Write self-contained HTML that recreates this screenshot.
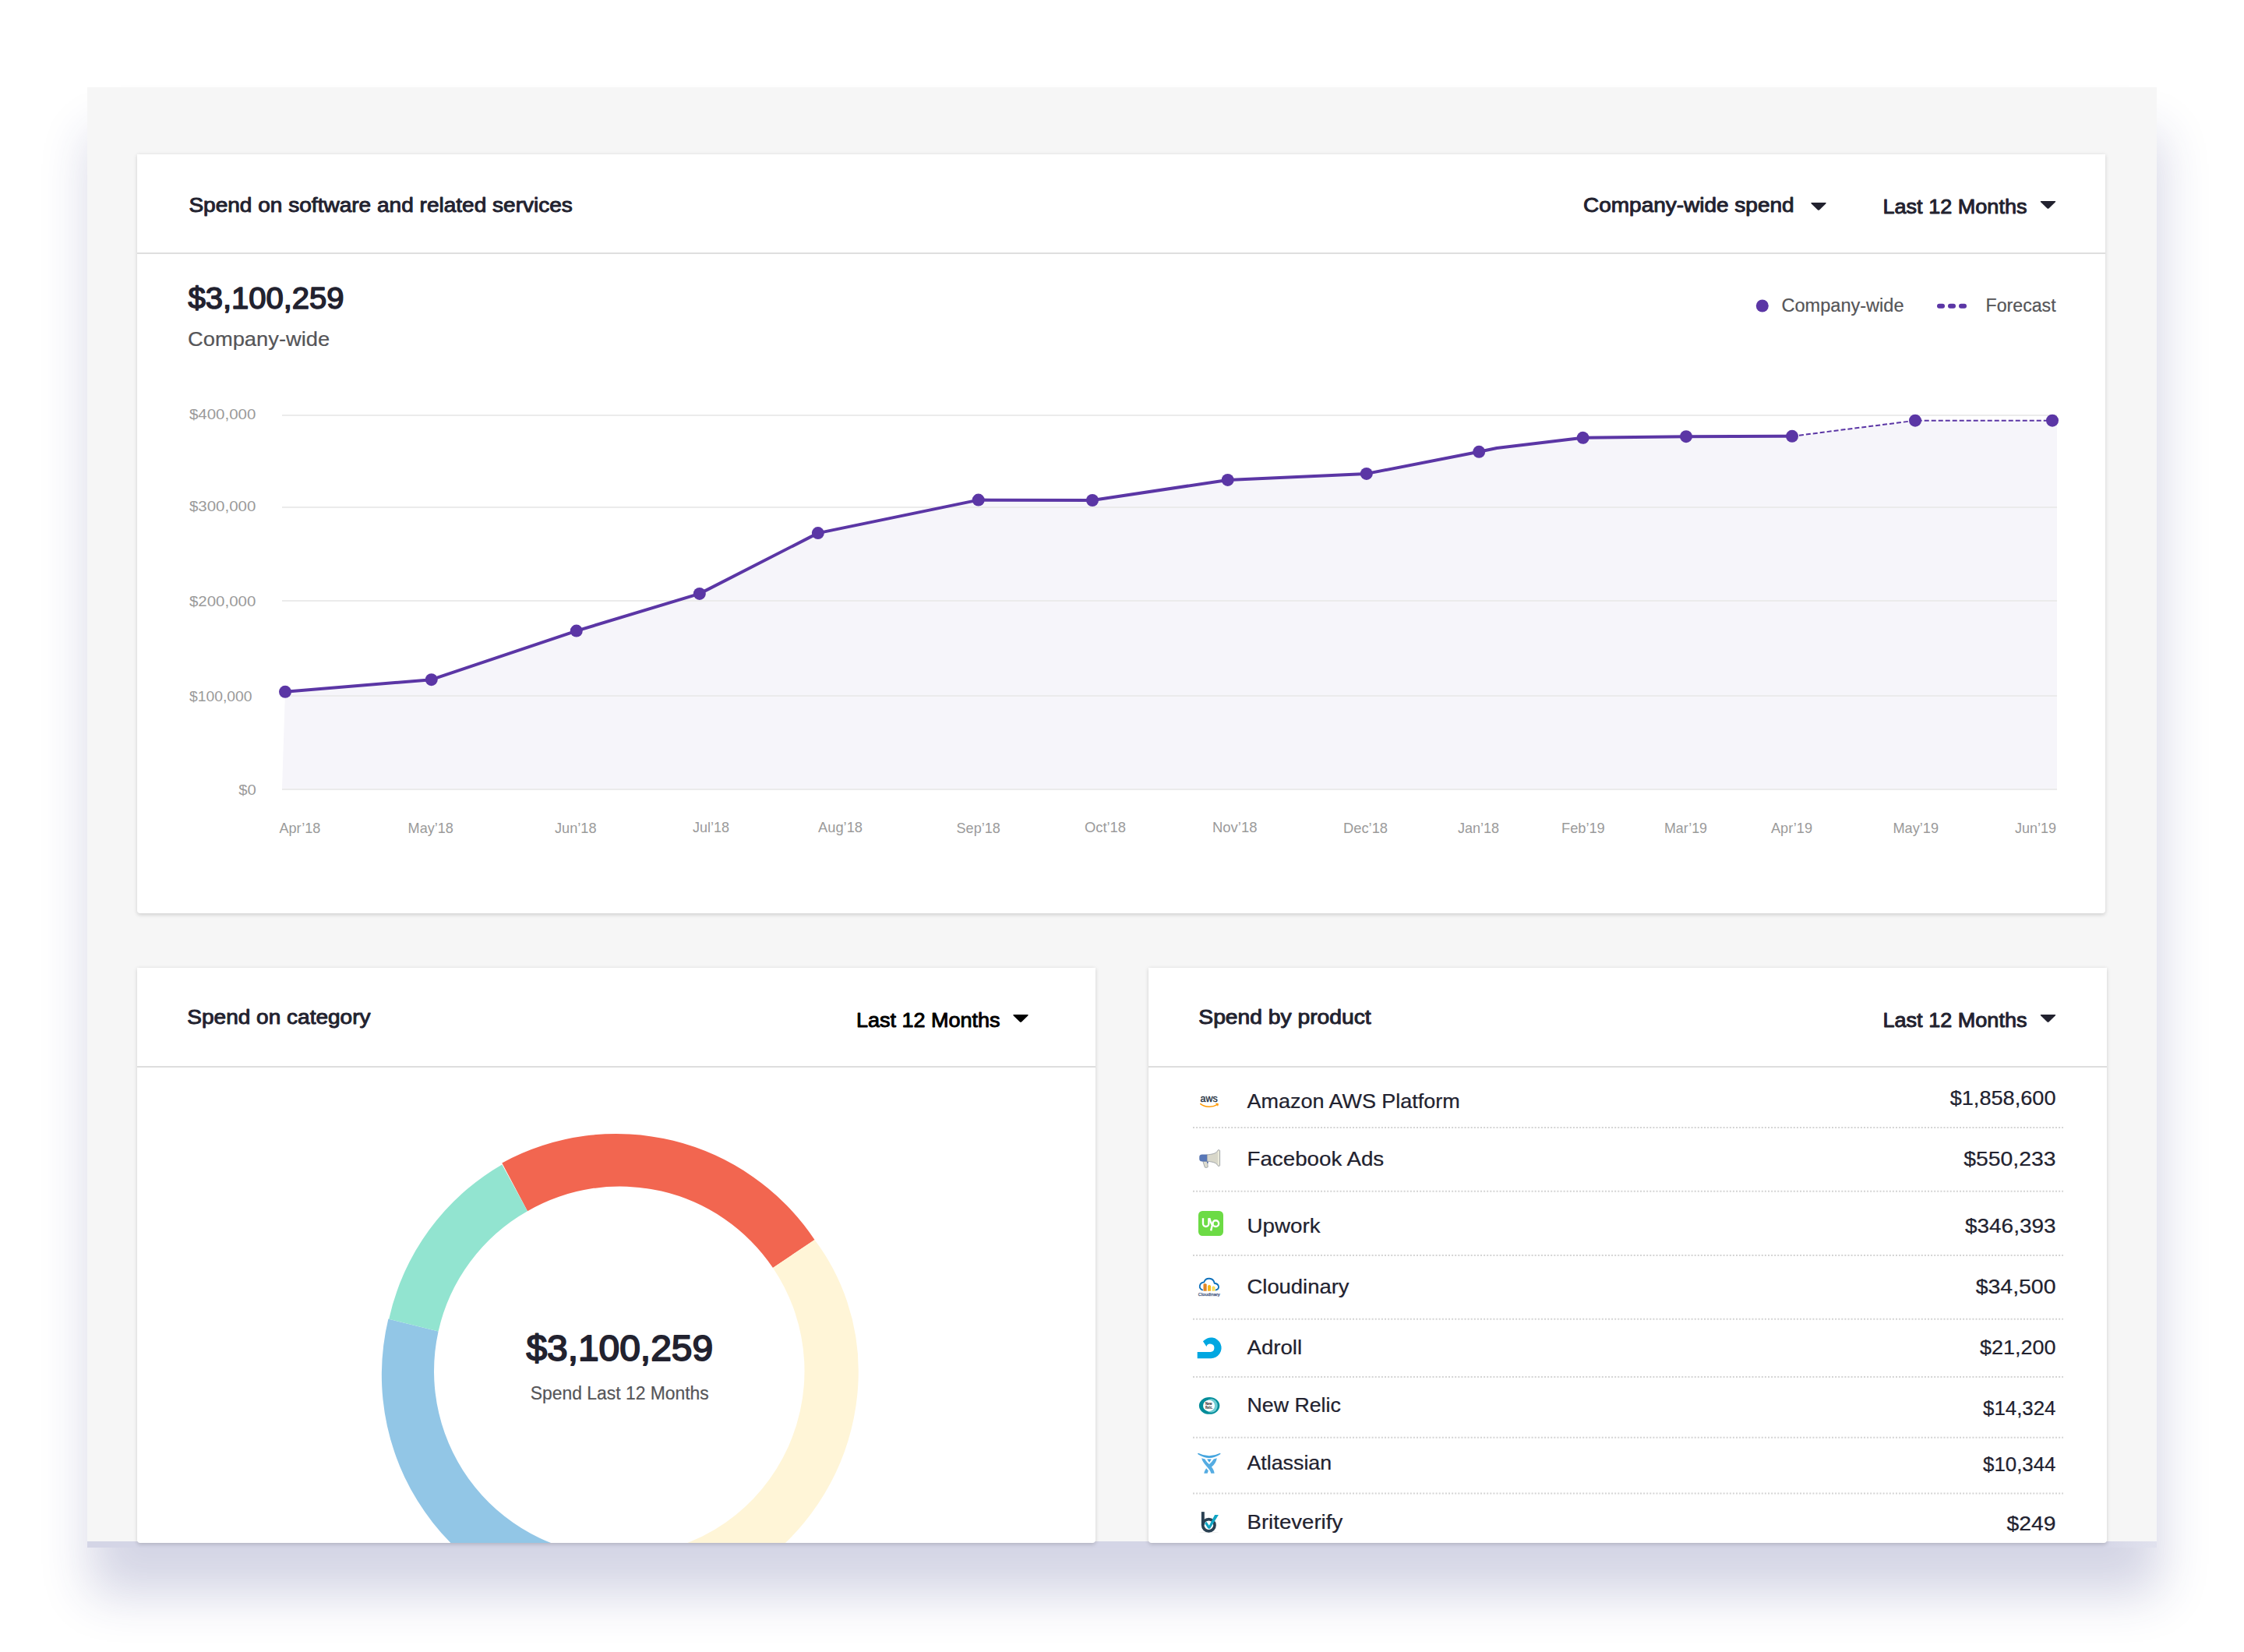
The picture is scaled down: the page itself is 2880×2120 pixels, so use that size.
<!DOCTYPE html>
<html lang="en">
<head>
<meta charset="utf-8">
<title>Spend dashboard</title>
<style>
html,body{margin:0;padding:0;background:#fff;}
body{width:2880px;height:2120px;position:relative;overflow:hidden;font-family:"Liberation Sans",sans-serif;}
.abs{position:absolute;}
#shadow{left:112px;top:112px;width:2656px;height:1874px;background:linear-gradient(to right,#d4d5e6 0,#d4d5e6 2580px,#e1e2ee 2656px);box-shadow:4px 60px 60px rgba(40,45,125,0.2);}
#panel{left:112px;top:112px;width:2656px;height:1866px;background:#f6f6f6;}
.card{background:#fff;border-radius:0 0 4px 4px;box-shadow:0 1.5px 5px rgba(0,0,0,0.16);}
#card1{left:176px;top:198px;width:2526px;height:974px;}
#card2{left:176px;top:1242px;width:1230px;height:738px;}
#card3{left:1474px;top:1242px;width:1230px;height:738px;}
.hr{height:2px;background:#dedede;left:0;right:0;}
svg{position:absolute;left:0;top:0;}
svg text{font-family:"Liberation Sans",sans-serif;}
</style>
</head>
<body>
<div id="shadow" class="abs"></div>
<div id="panel" class="abs"></div>
<div id="card1" class="abs card"><div class="abs hr" style="top:126px"></div></div>
<div id="card2" class="abs card"><div class="abs hr" style="top:126px"></div></div>
<div id="card3" class="abs card"><div class="abs hr" style="top:126px"></div></div>
<svg width="2880" height="2120" viewBox="0 0 2880 2120">
<path d="M362,1012 L366,887.8 L553.7,872.2 L739.8,809.6 L897.8,761.9 L1049.8,684.1 L1255.7,641.6 L1402,642 L1575.7,615.9 L1753.8,607.9 L1898.2,579.8 L1921,575 L2031.6,561.8 L2164,560.2 L2300,559.8 L2458,539.7 L2634,539.7 L2640,539.7 L2640,1012 Z" fill="#f6f5fa"/>
<rect x="362" y="532" width="2278" height="2" fill="#ebebeb"/>
<rect x="362" y="650" width="2278" height="2" fill="#ebebeb"/>
<rect x="362" y="770" width="2278" height="2" fill="#ebebeb"/>
<rect x="362" y="892" width="2278" height="2" fill="#ebebeb"/>
<rect x="362" y="1012" width="2278" height="2" fill="#ebebeb"/>
<path d="M366,887.8 L553.7,872.2 L739.8,809.6 L897.8,761.9 L1049.8,684.1 L1255.7,641.6 L1402,642 L1575.7,615.9 L1753.8,607.9 L1898.2,579.8 L1921,575 L2031.6,561.8 L2164,560.2 L2300,559.8" fill="none" stroke="#5b36a5" stroke-width="4" stroke-linejoin="round" stroke-linecap="round"/>
<path d="M2300,559.8 L2458,539.7 L2634,539.7" fill="none" stroke="#5b36a5" stroke-width="2" stroke-dasharray="6 3"/>
<circle cx="366" cy="887.8" r="8" fill="#5b36a5"/>
<circle cx="553.7" cy="872.2" r="8" fill="#5b36a5"/>
<circle cx="739.8" cy="809.6" r="8" fill="#5b36a5"/>
<circle cx="897.8" cy="761.9" r="8" fill="#5b36a5"/>
<circle cx="1049.8" cy="684.1" r="8" fill="#5b36a5"/>
<circle cx="1255.7" cy="641.6" r="8" fill="#5b36a5"/>
<circle cx="1402" cy="642" r="8" fill="#5b36a5"/>
<circle cx="1575.7" cy="615.9" r="8" fill="#5b36a5"/>
<circle cx="1753.8" cy="607.9" r="8" fill="#5b36a5"/>
<circle cx="1898.2" cy="579.8" r="8" fill="#5b36a5"/>
<circle cx="2031.6" cy="561.8" r="8" fill="#5b36a5"/>
<circle cx="2164" cy="560.2" r="8" fill="#5b36a5"/>
<circle cx="2300" cy="559.8" r="8" fill="#5b36a5"/>
<circle cx="2458" cy="539.7" r="8" fill="#5b36a5"/>
<circle cx="2634" cy="539.7" r="8" fill="#5b36a5"/>
<text x="243" y="538" font-size="18.5" fill="#9a9a9a" textLength="85.3" lengthAdjust="spacingAndGlyphs">$400,000</text>
<text x="243" y="656.4" font-size="18.5" fill="#9a9a9a" textLength="85.3" lengthAdjust="spacingAndGlyphs">$300,000</text>
<text x="243" y="778" font-size="18.5" fill="#9a9a9a" textLength="85.3" lengthAdjust="spacingAndGlyphs">$200,000</text>
<text x="243" y="900.3" font-size="18.5" fill="#9a9a9a" textLength="80.5" lengthAdjust="spacingAndGlyphs">$100,000</text>
<text x="306.3" y="1020.2" font-size="18.5" fill="#9a9a9a" textLength="22.5" lengthAdjust="spacingAndGlyphs">$0</text>
<text x="358.4" y="1068.7" font-size="18.5" fill="#9a9a9a" textLength="52.9" lengthAdjust="spacingAndGlyphs">Apr’18</text>
<text x="523.6" y="1068.7" font-size="18.5" fill="#9a9a9a" textLength="58.2" lengthAdjust="spacingAndGlyphs">May’18</text>
<text x="712" y="1068.7" font-size="18.5" fill="#9a9a9a" textLength="53.5" lengthAdjust="spacingAndGlyphs">Jun’18</text>
<text x="889" y="1067.5" font-size="18.5" fill="#9a9a9a" textLength="47" lengthAdjust="spacingAndGlyphs">Jul’18</text>
<text x="1050" y="1067.5" font-size="18.5" fill="#9a9a9a" textLength="57" lengthAdjust="spacingAndGlyphs">Aug’18</text>
<text x="1227.6" y="1068.7" font-size="18.5" fill="#9a9a9a" textLength="56.1" lengthAdjust="spacingAndGlyphs">Sep’18</text>
<text x="1392" y="1067.5" font-size="18.5" fill="#9a9a9a" textLength="53" lengthAdjust="spacingAndGlyphs">Oct’18</text>
<text x="1556" y="1067.5" font-size="18.5" fill="#9a9a9a" textLength="57.4" lengthAdjust="spacingAndGlyphs">Nov’18</text>
<text x="1724" y="1068.7" font-size="18.5" fill="#9a9a9a" textLength="57" lengthAdjust="spacingAndGlyphs">Dec’18</text>
<text x="1871" y="1068.7" font-size="18.5" fill="#9a9a9a" textLength="53" lengthAdjust="spacingAndGlyphs">Jan’18</text>
<text x="2004" y="1068.7" font-size="18.5" fill="#9a9a9a" textLength="55.7" lengthAdjust="spacingAndGlyphs">Feb’19</text>
<text x="2136" y="1068.7" font-size="18.5" fill="#9a9a9a" textLength="55" lengthAdjust="spacingAndGlyphs">Mar’19</text>
<text x="2273" y="1068.7" font-size="18.5" fill="#9a9a9a" textLength="53" lengthAdjust="spacingAndGlyphs">Apr’19</text>
<text x="2429.5" y="1068.7" font-size="18.5" fill="#9a9a9a" textLength="58.5" lengthAdjust="spacingAndGlyphs">May’19</text>
<text x="2586" y="1068.7" font-size="18.5" fill="#9a9a9a" textLength="53" lengthAdjust="spacingAndGlyphs">Jun’19</text>
<circle cx="2261.8" cy="392.5" r="8" fill="#5b36a5"/>
<text x="2286.5" y="400.2" font-size="23" fill="#555558" textLength="157" lengthAdjust="spacingAndGlyphs" stroke="#555558" stroke-width="0.21" stroke-linejoin="round">Company-wide</text>
<path d="M2489,392.8 H2521" stroke="#5b36a5" stroke-width="6" stroke-linecap="round" stroke-dasharray="4 10" fill="none"/>
<text x="2548.6" y="400.2" font-size="23" fill="#555558" textLength="90" lengthAdjust="spacingAndGlyphs" stroke="#555558" stroke-width="0.21" stroke-linejoin="round">Forecast</text>
<text x="242.4" y="272.2" font-size="26.5" fill="#22222f" textLength="492.5" lengthAdjust="spacingAndGlyphs" stroke="#22222f" stroke-width="0.98" stroke-linejoin="round">Spend on software and related services</text>
<text x="2032" y="272.2" font-size="26.5" fill="#22222f" textLength="270.6" lengthAdjust="spacingAndGlyphs" stroke="#22222f" stroke-width="0.98" stroke-linejoin="round">Company-wide spend</text>
<text x="2416.5" y="274.4" font-size="26.5" fill="#22222f" textLength="185" lengthAdjust="spacingAndGlyphs" stroke="#22222f" stroke-width="0.98" stroke-linejoin="round">Last 12 Months</text>
<path d="M2325,260 H2343 Q2344.5,260 2343.2,261.6 L2335.0,269.4 Q2334.0,270.3 2333.0,269.4 L2324.8,261.6 Q2323.5,260 2325,260 Z" fill="#22222f"/>
<path d="M2619.5,258 H2637.5 Q2639.0,258 2637.7,259.6 L2629.5,267.4 Q2628.5,268.3 2627.5,267.4 L2619.3,259.6 Q2618.0,258 2619.5,258 Z" fill="#22222f"/>
<text x="241.4" y="396.3" font-size="38" fill="#22222f" textLength="200.2" lengthAdjust="spacingAndGlyphs" stroke="#22222f" stroke-width="1.52" stroke-linejoin="round">$3,100,259</text>
<text x="241" y="443.7" font-size="26" fill="#555558" textLength="182.2" lengthAdjust="spacingAndGlyphs" stroke="#555558" stroke-width="0.23" stroke-linejoin="round">Company-wide</text>
<text x="240.3" y="1314.2" font-size="26.5" fill="#22222f" textLength="235.2" lengthAdjust="spacingAndGlyphs" stroke="#22222f" stroke-width="0.98" stroke-linejoin="round">Spend on category</text>
<text x="1099" y="1318" font-size="26.5" fill="#000" textLength="184.5" lengthAdjust="spacingAndGlyphs" stroke="#000" stroke-width="0.98" stroke-linejoin="round">Last 12 Months</text>
<path d="M1301,1302 H1319 Q1320.5,1302 1319.2,1303.6 L1311.0,1311.4 Q1310.0,1312.3 1309.0,1311.4 L1300.8,1303.6 Q1299.5,1302 1301,1302 Z" fill="#000"/>
<text x="1538.3" y="1314.2" font-size="26.5" fill="#22222f" textLength="221.3" lengthAdjust="spacingAndGlyphs" stroke="#22222f" stroke-width="0.98" stroke-linejoin="round">Spend by product</text>
<text x="2416.5" y="1318" font-size="26.5" fill="#22222f" textLength="185" lengthAdjust="spacingAndGlyphs" stroke="#22222f" stroke-width="0.98" stroke-linejoin="round">Last 12 Months</text>
<path d="M2619.5,1302 H2637.5 Q2639.0,1302 2637.7,1303.6 L2629.5,1311.4 Q2628.5,1312.3 2627.5,1311.4 L2619.3,1303.6 Q2618.0,1302 2619.5,1302 Z" fill="#22222f"/>
<clipPath id="c2"><rect x="176" y="1370" width="1230" height="610"/></clipPath>
<g clip-path="url(#c2)">
<path d="M644.3,1492.4 A306,306 0 0 1 1045.5,1591 L991.98,1626.97 A237,237 0 0 0 677.00,1554.25 Z" fill="#f26650"/>
<path d="M1045.5,1591 A280.3,280.3 0 0 1 1101.8,1759.5 A306,306 0 0 1 795.50,2065.50 L795.50,1996.50 A237,237 0 0 0 991.98,1626.97 Z" fill="#fff5d7"/>
<path d="M498.4,1692.6 A306.5,306.5 0 0 0 796.6,2071 L795.50,1996.50 A237,237 0 0 1 562.60,1708.40 Z" fill="#92c6e6"/>
<path d="M499.2,1692.8 A304.8,304.8 0 0 1 644.3,1494.4 L677.00,1554.25 A237,237 0 0 0 562.60,1708.40 Z" fill="#92e4d0"/>
</g>
<text x="675.4" y="1745.8" font-size="46.6" fill="#22222f" textLength="239.7" lengthAdjust="spacingAndGlyphs" stroke="#22222f" stroke-width="1.86" stroke-linejoin="round">$3,100,259</text>
<text x="680.8" y="1796" font-size="23" fill="#555558" textLength="229" lengthAdjust="spacingAndGlyphs" stroke="#555558" stroke-width="0.21" stroke-linejoin="round">Spend Last 12 Months</text>
<text x="1600.5" y="1422.4" font-size="26.5" fill="#22222f" textLength="273.3" lengthAdjust="spacingAndGlyphs" stroke="#22222f" stroke-width="0.24" stroke-linejoin="round">Amazon AWS Platform</text>
<text x="1600.5" y="1495.7" font-size="26.5" fill="#22222f" textLength="175.7" lengthAdjust="spacingAndGlyphs" stroke="#22222f" stroke-width="0.24" stroke-linejoin="round">Facebook Ads</text>
<text x="1600.5" y="1582" font-size="26.5" fill="#22222f" textLength="94.1" lengthAdjust="spacingAndGlyphs" stroke="#22222f" stroke-width="0.24" stroke-linejoin="round">Upwork</text>
<text x="1600.5" y="1660.1" font-size="26.5" fill="#22222f" textLength="131" lengthAdjust="spacingAndGlyphs" stroke="#22222f" stroke-width="0.24" stroke-linejoin="round">Cloudinary</text>
<text x="1600.5" y="1738.3" font-size="26.5" fill="#22222f" textLength="70.6" lengthAdjust="spacingAndGlyphs" stroke="#22222f" stroke-width="0.24" stroke-linejoin="round">Adroll</text>
<text x="1600.5" y="1811.8" font-size="26.5" fill="#22222f" textLength="120.3" lengthAdjust="spacingAndGlyphs" stroke="#22222f" stroke-width="0.24" stroke-linejoin="round">New Relic</text>
<text x="1600.5" y="1886.1" font-size="26.5" fill="#22222f" textLength="108.6" lengthAdjust="spacingAndGlyphs" stroke="#22222f" stroke-width="0.24" stroke-linejoin="round">Atlassian</text>
<text x="1600.5" y="1962.1" font-size="26.5" fill="#22222f" textLength="122.7" lengthAdjust="spacingAndGlyphs" stroke="#22222f" stroke-width="0.24" stroke-linejoin="round">Briteverify</text>
<text x="2502.7" y="1418" font-size="26.5" fill="#22222f" textLength="135.8" lengthAdjust="spacingAndGlyphs" stroke="#22222f" stroke-width="0.24" stroke-linejoin="round">$1,858,600</text>
<text x="2520.3" y="1496.2" font-size="26.5" fill="#22222f" textLength="118.2" lengthAdjust="spacingAndGlyphs" stroke="#22222f" stroke-width="0.24" stroke-linejoin="round">$550,233</text>
<text x="2522" y="1582.1" font-size="26.5" fill="#22222f" textLength="116.5" lengthAdjust="spacingAndGlyphs" stroke="#22222f" stroke-width="0.24" stroke-linejoin="round">$346,393</text>
<text x="2535.7" y="1660" font-size="26.5" fill="#22222f" textLength="102.8" lengthAdjust="spacingAndGlyphs" stroke="#22222f" stroke-width="0.24" stroke-linejoin="round">$34,500</text>
<text x="2541" y="1737.9" font-size="26.5" fill="#22222f" textLength="97.5" lengthAdjust="spacingAndGlyphs" stroke="#22222f" stroke-width="0.24" stroke-linejoin="round">$21,200</text>
<text x="2545" y="1816.2" font-size="26.5" fill="#22222f" textLength="93.5" lengthAdjust="spacingAndGlyphs" stroke="#22222f" stroke-width="0.24" stroke-linejoin="round">$14,324</text>
<text x="2545" y="1888.1" font-size="26.5" fill="#22222f" textLength="93.5" lengthAdjust="spacingAndGlyphs" stroke="#22222f" stroke-width="0.24" stroke-linejoin="round">$10,344</text>
<text x="2575.6" y="1964" font-size="26.5" fill="#22222f" textLength="62.9" lengthAdjust="spacingAndGlyphs" stroke="#22222f" stroke-width="0.24" stroke-linejoin="round">$249</text>
<path d="M1531,1447 H2648" stroke="#d4d4d4" stroke-width="2" stroke-dasharray="2 2.1" fill="none"/>
<path d="M1531,1528.8 H2648" stroke="#d4d4d4" stroke-width="2" stroke-dasharray="2 2.1" fill="none"/>
<path d="M1531,1610.9 H2648" stroke="#d4d4d4" stroke-width="2" stroke-dasharray="2 2.1" fill="none"/>
<path d="M1531,1692.7 H2648" stroke="#d4d4d4" stroke-width="2" stroke-dasharray="2 2.1" fill="none"/>
<path d="M1531,1766.9 H2648" stroke="#d4d4d4" stroke-width="2" stroke-dasharray="2 2.1" fill="none"/>
<path d="M1531,1844.7 H2648" stroke="#d4d4d4" stroke-width="2" stroke-dasharray="2 2.1" fill="none"/>
<path d="M1531,1916.6 H2648" stroke="#d4d4d4" stroke-width="2" stroke-dasharray="2 2.1" fill="none"/>
<!-- aws -->
<g transform="translate(1525,1390) scale(0.027236)">
<path d="M580,978 C800,1155 1150,1140 1345,1025" fill="none" stroke="#ff9900" stroke-width="56" stroke-linecap="round"/>
<path d="M1270,960 Q1360,930 1425,965 Q1440,1030 1385,1100 Q1390,1010 1270,960 Z" fill="#ff9900"/>
</g>
<text x="1540.6" y="1414" font-size="12.9" fill="#232f3e" textLength="22.2" lengthAdjust="spacingAndGlyphs" stroke="#232f3e" stroke-width="0.35">aws</text>
<!-- facebook megaphone -->
<g transform="translate(1525,1465) scale(0.027236)">
<path d="M690,925 L905,925 L925,1200 Q850,1250 785,1215 Z" fill="#deddd0" stroke="#8c9299" stroke-width="28" stroke-linejoin="round"/>
<path d="M875,940 H940 V1020 H890 Z" fill="#4a66a8"/>
<path d="M880,620 C1130,600 1330,560 1385,420 Q1440,350 1490,420 V1130 Q1440,1200 1385,1120 C1330,990 1130,950 880,925 Z" fill="#d8d7ca" stroke="#8c9299" stroke-width="28" stroke-linejoin="round"/>
<path d="M1395,470 Q1440,400 1468,440 V1110 Q1440,1150 1395,1075 Z" fill="#ecebdb"/>
<path d="M640,615 H880 V930 H640 Q530,930 530,820 V725 Q530,615 640,615 Z" fill="#5877b7" stroke="#4f6aa6" stroke-width="14"/>
</g>
<!-- upwork -->
<rect x="1538" y="1554" width="32" height="32" rx="5.2" fill="#6cdb45"/>
<g transform="translate(1525,1545) scale(0.030272)" fill="none" stroke="#fff" stroke-width="78">
<path d="M627,600 V835 A122,122 0 0 0 871,835 V600"/>
<path d="M900,600 C925,710 965,810 1010,880"/>
<circle cx="1165" cy="830" r="128"/><path d="M962,1135 L1042,800"/>
</g>
<!-- cloudinary -->
<g transform="translate(1525,1630) scale(0.027236)">
<path d="M665,930 C470,850 520,590 745,565 C820,330 1180,330 1235,615 C1480,650 1490,880 1305,935" fill="none" stroke="#0f71bb" stroke-width="66" stroke-linecap="round" stroke-linejoin="round"/>
<path d="M715,985 V665 L790,625 L870,665 V985 Z" fill="#e08424"/>
<path d="M920,985 V730 L990,690 L1065,730 V985 Z" fill="#f7b519"/>
<path d="M1115,985 V785 L1190,745 L1270,785 V985 Z" fill="#f6de60"/>
</g>
<text x="1537.8" y="1662.7" font-size="6.1" fill="#3a4f7a" stroke="#3a4f7a" stroke-width="0.25" textLength="28" lengthAdjust="spacingAndGlyphs">Cloudinary</text>
<!-- adroll -->
<g transform="translate(1525,1705) scale(0.027236)">
<path d="M430,1100 L1050,1100 A190,190 0 1 0 860,840 L695,600 A490,490 0 1 1 1050,1400 L430,1400 Z" fill="#00a7e1"/>
</g>
<!-- new relic -->
<g transform="translate(1525,1780) scale(0.027236)">
<ellipse cx="995" cy="880" rx="485" ry="400" fill="#008c99"/>
<ellipse cx="1085" cy="880" rx="300" ry="325" fill="#70ccd3"/>
<ellipse cx="975" cy="878" rx="275" ry="265" fill="#fff"/>
</g>
<text x="1547" y="1803.2" font-size="4.9" font-weight="bold" fill="#111" textLength="8.6" lengthAdjust="spacingAndGlyphs">New</text>
<text x="1547" y="1807.8" font-size="4.9" font-weight="bold" fill="#111" textLength="9.6" lengthAdjust="spacingAndGlyphs">Relic.</text>
<!-- atlassian -->
<g transform="translate(1525,1855) scale(0.027236)" fill="#55ace2">
<path d="M470,355 Q990,610 1500,355 Q1545,370 1510,410 Q990,760 460,410 Q425,370 470,355 Z" fill="#45a5df"/>
<path d="M905,655 H1075 L995,785 Z" fill="#45a5df" stroke="#45a5df" stroke-width="20" stroke-linejoin="round"/>
<path d="M630,595 L790,640 C840,740 920,820 990,885 C1070,810 1140,730 1200,640 L1350,595 C1330,760 1230,900 1100,1010 C1180,1100 1220,1200 1235,1310 L1075,1310 C1050,1170 960,1090 850,960 C740,840 660,730 630,595 Z"/>
<path d="M850,1075 L950,1190 C925,1230 912,1270 905,1310 L745,1310 C765,1220 800,1140 850,1075 Z"/>
</g>
<!-- briteverify -->
<g transform="translate(1525,1930) scale(0.027236)">
<ellipse cx="975" cy="1345" rx="470" ry="22" fill="#000" fill-opacity="0.07"/>
<path d="M692,372 V1000" fill="none" stroke="#2a4153" stroke-width="145"/><circle cx="967" cy="1000" r="282" fill="none" stroke="#2a4153" stroke-width="135"/>
<path d="M772,905 L862,838 L985,1020 L1252,518 L1428,518 L1040,1145 Q985,1190 930,1145 Z" fill="#10a5c4"/>
</g>

</svg>
</body>
</html>
